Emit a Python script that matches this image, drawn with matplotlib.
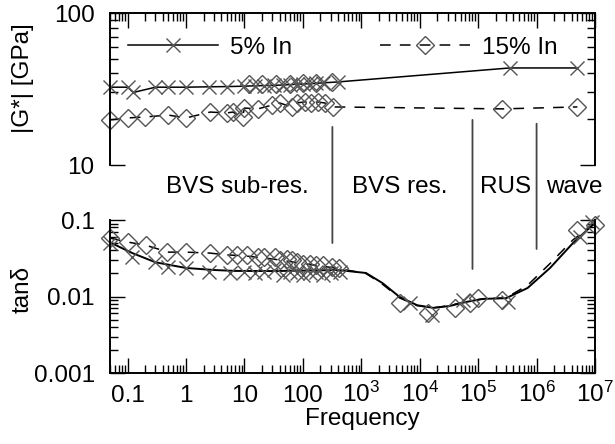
import numpy as np
import matplotlib
matplotlib.use('Agg')
import matplotlib.pyplot as plt
from matplotlib.patches import ConnectionPatch
from matplotlib.ticker import FixedLocator, LogLocator, NullFormatter, FixedFormatter

plt.rcParams['font.family'] = ['Liberation Sans', 'DejaVu Sans']
plt.rcParams['mathtext.fontset'] = 'custom'
plt.rcParams['mathtext.rm'] = 'Liberation Sans'
plt.rcParams['mathtext.it'] = 'Liberation Sans:italic'
FS = 17.5
plt.rcParams['font.size'] = FS

# |G*| data (top panel)
top5_f = [0.05, 0.1, 0.125, 0.3, 0.5, 1, 2.5, 5, 10, 15, 22, 32, 45, 60, 80, 100,
          130, 170, 220, 400, 3.5e5, 5e6]
top5_G = [32.5, 32.5, 30.0, 32.5, 32.5, 32.5, 32.7, 32.8, 33, 33.2, 33.3, 33.4,
          33.6, 33.8, 34, 34.1, 34.3, 34.5, 34.7, 35.2, 43.5, 43.5]
top15_f = [0.05, 0.1, 0.2, 0.5, 1, 2.6, 5, 6.3, 9.3, 10, 17, 30, 40, 64, 78, 107,
           140, 180, 235, 330, 2.6e5, 5e6]
top15_G = [19.8, 20.4, 20.7, 21.3, 20.4, 22.3, 22.0, 22.3, 20.7, 23.7, 23.4, 24.8,
           25.6, 24.1, 25.6, 26.0, 25.6, 26.0, 25.6, 24.1, 23.4, 24.1]
top15b_f = [12, 20, 35, 60, 100, 165, 320]
top15b_G = [34, 34, 34, 34.3, 34.5, 34.7, 35.2]

# tan(delta) data (bottom panel)
bot5_f = [0.05, 0.12, 0.3, 0.5, 1, 2.5, 5.6, 10, 15, 22, 32, 45, 60, 80, 100, 130,
          170, 220, 300, 430, 6800, 1.6e4, 5.5e4, 3.2e5, 5.5e6, 9e6]
bot5_tan = [0.050, 0.033, 0.028, 0.0243, 0.0236, 0.021, 0.0203, 0.021, 0.020, 0.021,
            0.022, 0.019, 0.021, 0.020, 0.019, 0.020, 0.021, 0.019, 0.020, 0.021,
            0.0082, 0.0058, 0.009, 0.0085, 0.06, 0.095]
bot15_f = [0.05, 0.1, 0.21, 0.48, 1.0, 2.6, 5.1, 7.6, 11, 17, 22, 33, 40, 53, 64, 78,
           100, 130, 170, 220, 310, 420, 4600, 1.4e4, 4e4, 7.3e4, 9.8e4, 2.6e5, 4.9e6, 1e7]
bot15_tan = [0.058, 0.0515, 0.047, 0.038, 0.038, 0.037, 0.035, 0.035, 0.035, 0.033,
             0.033, 0.033, 0.030, 0.031, 0.030, 0.028, 0.027, 0.027, 0.026, 0.026,
             0.024, 0.0236, 0.0082, 0.0061, 0.0071, 0.0082, 0.0095, 0.009, 0.074, 0.086]

# fitted curves
fit5_f = [0.05, 0.12, 0.3, 1, 3, 7, 30, 100, 400, 1200, 2300, 4500, 9000, 1.7e4,
          3.2e4, 6.3e4, 1.2e5, 3e5, 7e5, 1.7e6, 4.2e6, 1e7]
fit5_tan = [0.051, 0.037, 0.028, 0.0236, 0.0222, 0.0216, 0.0215, 0.0218, 0.0222,
            0.0203, 0.015, 0.0099, 0.0077, 0.0071, 0.0075, 0.0085, 0.0093, 0.0095,
            0.0129, 0.0236, 0.050, 0.092]
fit15_f = [0.05, 0.1, 0.2, 0.5, 1, 2.5, 5, 10, 30, 100, 300, 600, 1200, 2300, 4500,
           9000, 1.7e4, 3.2e4, 6.3e4, 1.2e5, 3e5, 7e5, 1.7e6, 4.2e6, 1e7]
fit15_tan = [0.058, 0.0515, 0.047, 0.038, 0.038, 0.037, 0.035, 0.034, 0.031, 0.027,
             0.024, 0.022, 0.020, 0.0145, 0.0096, 0.0076, 0.0071, 0.0076, 0.0086,
             0.0093, 0.0096, 0.014, 0.027, 0.055, 0.09]

# regime boundaries: frequency, top of line (GPa), bottom of line (tan delta)
bound_f = [320, 8e4, 1e6]
bound_top = [17.8, 19.8, 18.7]
bound_bot = [0.050, 0.0229, 0.0418]
regions = ['BVS sub-res.', 'BVS res.', 'RUS', 'wave']
region_f = [7.6, 4.6e3, 2.9e5, 4.5e6]

xticks = [0.1, 1, 10, 100, 1e3, 1e4, 1e5, 1e6, 1e7]
xticklabels = ['0.1', '1', '10', '100', r'$\mathregular{10^3}$', r'$\mathregular{10^4}$',
               r'$\mathregular{10^5}$', r'$\mathregular{10^6}$', r'$\mathregular{10^7}$']

mcol = '#555555'
W, H = 615, 444
fig = plt.figure(figsize=(6.15, 4.44), dpi=100)
ax1 = fig.add_axes([110 / W, 1 - 165 / H, 485 / W, 152 / H])
ax2 = fig.add_axes([110 / W, 1 - 373 / H, 485 / W, 153 / H])

for ax in (ax1, ax2):
    ax.set_xscale('log')
    ax.set_yscale('log')
    ax.set_xlim(0.05, 1e7)
    for s in ax.spines.values():
        s.set_linewidth(1.4)
    ax.xaxis.set_major_locator(FixedLocator(xticks))
    ax.xaxis.set_minor_locator(LogLocator(base=10, subs=np.arange(2, 10), numticks=30))
    ax.xaxis.set_minor_formatter(NullFormatter())
    ax.yaxis.set_minor_locator(LogLocator(base=10, subs=np.arange(2, 10), numticks=30))
    ax.yaxis.set_minor_formatter(NullFormatter())
    ax.tick_params(which='major', direction='in', length=11, width=1.0)
    ax.tick_params(which='minor', direction='in', length=5.5, width=1.0)
    ax.tick_params(axis='y', which='both', right=True, pad=11)

# top panel
ax1.spines['bottom'].set_visible(False)
ax1.set_ylim(10, 100)
ax1.xaxis.set_ticks_position('top')
ax1.tick_params(axis='x', labeltop=False, labelbottom=False)
ax1.set_yticks([10, 100])
ax1.set_yticklabels(['10', '100'])

ax1.plot(top5_f, top5_G, '-', color='black', lw=1.1, marker='x', ms=9.5, mew=1.0,
         mec=mcol, label='5% In', clip_on=False)
ax1.plot(top15_f, top15_G, color='black', lw=1.1, dashes=(7, 6), marker='D', ms=9.5,
         mew=1.0, mec=mcol, mfc='none', label='15% In', clip_on=False)
ax1.plot(top15b_f, top15b_G, 'D', ms=9.5, mew=1.0, mec=mcol, mfc='none')

ax1.legend(loc='center left', bbox_to_anchor=(0.037, 0.77), ncol=2, frameon=False,
           borderpad=0, borderaxespad=0, handlelength=3.7, handletextpad=0.5,
           columnspacing=3.6, fontsize=FS)

# bottom panel
ax2.spines['top'].set_visible(False)
ax2.set_ylim(0.001, 0.1)
ax2.xaxis.set_ticks_position('bottom')
ax2.set_yticks([0.001, 0.01, 0.1])
ax2.set_yticklabels(['0.001', '0.01', '0.1'])
ax2.xaxis.set_major_formatter(FixedFormatter(xticklabels))
ax2.tick_params(axis='x', which='major', pad=21)
for lab in ax2.get_xticklabels():
    lab.set_verticalalignment('baseline')

ax2.plot(fit5_f, fit5_tan, '-', color='black', lw=1.4)
ax2.plot(fit15_f, fit15_tan, color='black', lw=1.1, dashes=(7, 6))
ax2.plot(bot5_f, bot5_tan, 'x', ms=9.5, mew=1.0, mec=mcol, clip_on=False)
ax2.plot(bot15_f, bot15_tan, 'D', ms=9.5, mew=1.0, mec=mcol, mfc='none', clip_on=False)

# regime boundaries spanning both panels
for f, yt, yb in zip(bound_f, bound_top, bound_bot):
    con = ConnectionPatch(xyA=(f, yt), coordsA=ax1.transData, xyB=(f, yb),
                          coordsB=ax2.transData, color='#444444', lw=1.3)
    fig.add_artist(con)

for name, f in zip(regions, region_f):
    ax1.text(f, 7.2, name, ha='center', va='center', fontsize=FS, clip_on=False)

fig.text(23 / W, 1 - 78 / H, '|G*| [GPa]', rotation=90, ha='center', va='center', fontsize=FS)
fig.text(23 / W, 1 - 289 / H, 'tanδ', rotation=90, ha='center', va='center', fontsize=FS)
fig.text(362 / W, 1 - 425 / H, 'Frequency', ha='center', va='baseline', fontsize=FS)

fig.savefig('out.png', dpi=100)
